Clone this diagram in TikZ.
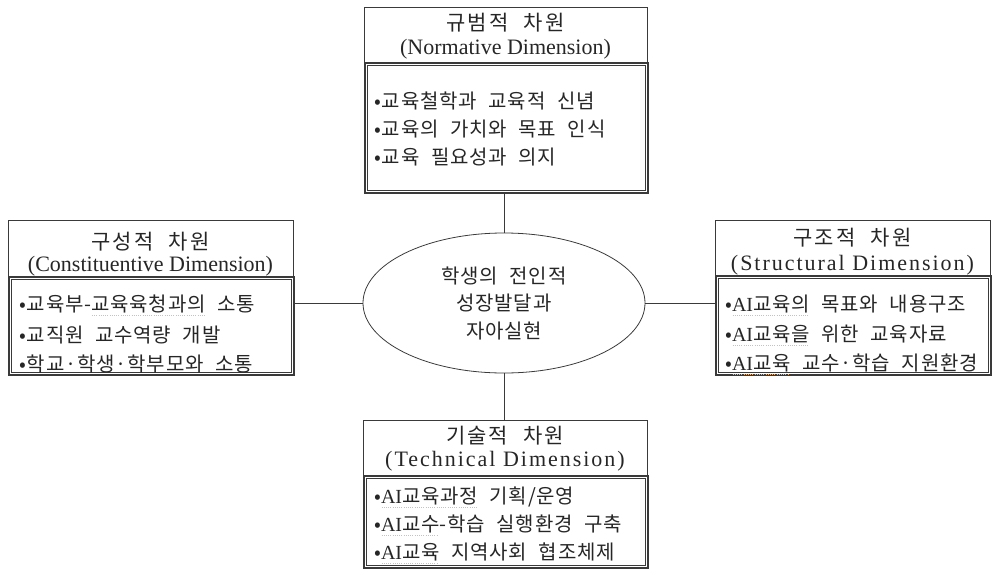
\documentclass[tikz,border=0pt]{standalone}
\usepackage{fontspec}
\usepackage{graphicx}
\setmainfont{Liberation Serif}
\newfontfamily\kr{Noto Sans CJK KR}[WordSpace=2.2,LetterSpace=4]
\newfontfamily\krwide{Noto Sans CJK KR}[WordSpace=2.2,LetterSpace=10]
\usetikzlibrary{shapes.geometric}
\definecolor{ink}{HTML}{262626}
\definecolor{frame}{HTML}{3A3A3A}
\definecolor{squig}{HTML}{EDB98A}
% Latin letters set in the serif face inside Korean text
\newcommand\ai{{\rmfamily AI}}
% dotted spelling-check underline under a word
\newcommand\sq[1]{\setbox0\hbox{#1}\rlap{\raisebox{-4.5pt}{\color{squig}\hbox to \wd0{\leaders\hbox to 2.2pt{\hss\rule{1pt}{0.6pt}\hss}\hfill}}}\box0\relax}
\begin{document}
\begin{tikzpicture}[x=1pt,y=-1pt,
  hdrbox/.style={draw=frame, line width=0.9pt, inner sep=0pt, anchor=north west},
  bodybox/.style={draw=frame, line width=1.5pt, inner sep=0pt, anchor=north west},
  krtitle/.style={font=\krwide\fontsize{21}{24}\selectfont, text=ink, inner sep=0pt},
  entitle/.style={font=\fontsize{22}{24}\selectfont, text=ink, inner sep=0pt},
  entitlewide/.style={font=\fontsize{22}{24}\selectfont\addfontfeature{LetterSpace=9}, text=ink, inner sep=0pt},
  item/.style={font=\kr\fontsize{20}{24}\selectfont, text=ink, anchor=west, inner sep=0pt},
  link/.style={draw=frame, line width=0.9pt}]
\useasboundingbox (0,0) rectangle (994,573);

% inner thin frame of a body box
\newcommand\innerframe[1]{\draw[frame, line width=0.6pt]
  ([shift={(3pt,-3pt)}]#1.north west) rectangle ([shift={(-3pt,3pt)}]#1.south east);}

% ---- normative dimension (top)
\node[hdrbox, minimum width=283pt, minimum height=55pt] (nh) at (364,7) {};
\node[bodybox, minimum width=283pt, minimum height=130pt] (nb) at (364,62) {};
\innerframe{nb}
\node[krtitle] (nk) at (505.5,23) {규범적 차원};
\node[entitle] (ne) at (505.5,49) {(Normative Dimension)};
\node[item] (n1) at (374,101) {•교육철학과 교육적 신념};
\node[item] (n2) at (374,129) {•교육의 가치와 목표 인식};
\node[item] (n3) at (374,157) {•교육 필요성과 의지};

% ---- constituentive dimension (left)
\node[hdrbox, minimum width=285pt, minimum height=56pt] (ch) at (8,220) {};
\node[bodybox, minimum width=285pt, minimum height=98pt] (cb) at (8,276) {};
\innerframe{cb}
\node[krtitle] (ck) at (150.5,242) {구성적 차원};
\node[entitle] (ce) at (150.5,266) {(Constituentive Dimension)};
\node[item] (c1) at (19,305) {•교육부-\sq{교육육청과의} 소통};
\node[item] (c2) at (19,335) {•교직원 교수역량 개발};
\node[item] (c3) at (19,364) {•학교·학생·학부모와 소통};

% ---- structural dimension (right)
\node[hdrbox, minimum width=275pt, minimum height=55pt] (sh) at (715,220) {};
\node[bodybox, minimum width=275pt, minimum height=99pt] (sb) at (715,275) {};
\innerframe{sb}
\node[krtitle] (sk) at (852.5,238) {구조적 차원};
\node[entitlewide] (se) at (852.5,265) {(Structural Dimension)};
\node[item] (s1) at (725,305) {•\sq{\ai 교육의} 목표와 내용구조};
\node[item] (s2) at (725,335) {•\sq{\ai 교육을} 위한 교육자료};
\node[item] (s3) at (725,364) {•\sq{\ai 교육} 교수·학습 지원환경};

% ---- technical dimension (bottom)
\node[hdrbox, minimum width=284pt, minimum height=55pt] (th) at (363,420) {};
\node[bodybox, minimum width=284pt, minimum height=92pt] (tb) at (363,475) {};
\innerframe{tb}
\node[krtitle] (tk) at (505,436) {기술적 차원};
\node[entitlewide] (te) at (505,461) {(Technical Dimension)};
\node[item] (t1) at (374,497) {•\sq{\ai 교육과정} 기획/운영};
\node[item] (t2) at (374,525) {•\sq{\ai 교수}-학습 실행환경 구축};
\node[item] (t3) at (374,553) {•\sq{\ai 교육} 지역사회 협조체제};

% ---- centre: whole-person growth
\node[ellipse, draw=frame, line width=0.8pt, minimum width=282pt, minimum height=140pt,
      inner sep=0pt, align=center, text=ink, font=\kr\fontsize{20}{27.5}\selectfont]
  (core) at (504,303) {학생의 전인적\\성장발달과\\자아실현};

% ---- connectors
\draw[link] (nb.south -| core.north) -- (core.north);
\draw[link] (core.south) -- (th.north -| core.south);
\draw[link] (cb.east |- core.west) -- (core.west);
\draw[link] (core.east) -- (sb.west |- core.east);
\end{tikzpicture}
\end{document}
